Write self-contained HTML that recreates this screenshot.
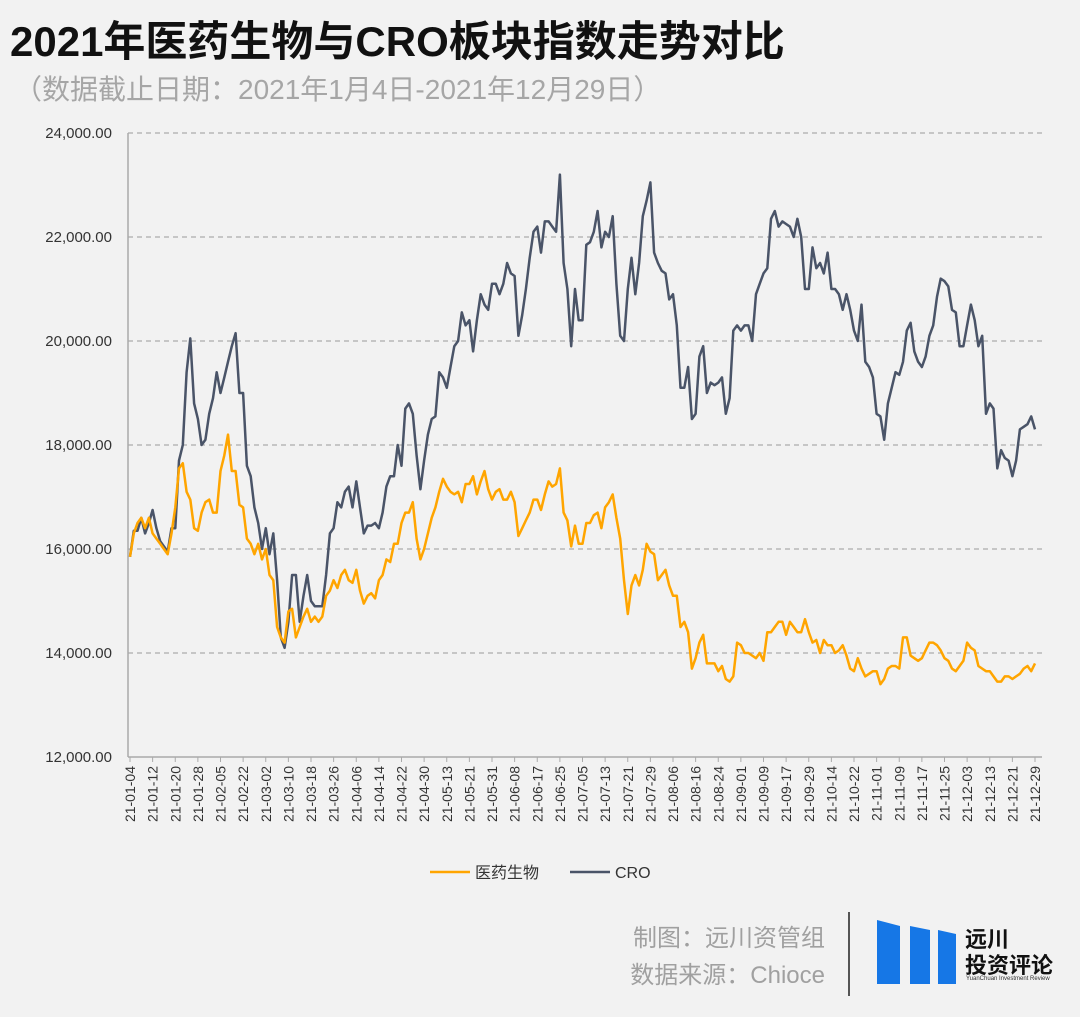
<!DOCTYPE html>
<html><head><meta charset="utf-8"><style>
body{margin:0;width:1080px;height:1017px;background:#f2f2f2;font-family:"Liberation Sans","Noto Sans CJK SC",sans-serif;overflow:hidden;position:relative}
.t{position:absolute;white-space:nowrap}
</style></head><body>
<div class="t" style="left:10px;top:8px;font-size:42px;font-weight:bold;color:#111">2021年医药生物与CRO板块指数走势对比</div>
<div class="t" style="left:14px;top:68px;font-size:28px;color:#a6a6a6">（数据截止日期：2021年1月4日-2021年12月29日）</div>
<svg id="chart" width="1080" height="1017" style="position:absolute;left:0;top:0"></svg>
<div class="t" style="right:255px;top:918px;font-size:24px;color:#a0a0a0">制图：远川资管组</div>
<div class="t" style="right:255px;top:955px;font-size:24px;color:#a0a0a0">数据来源：Chioce</div>
<div style="position:absolute;left:848px;top:912px;width:2px;height:84px;background:#555"></div>
<svg width="90" height="80" style="position:absolute;left:872px;top:912px">
<polygon points="5,8 28,14 28,72 5,72" fill="#1677e6"/>
<polygon points="38,14 58,18 58,72 38,72" fill="#1677e6"/>
<polygon points="66,18 84,22 84,72 66,72" fill="#1677e6"/>
</svg>
<div class="t" style="left:965px;top:922px;font-size:22px;font-weight:bold;color:#111">远川</div>
<div class="t" style="left:965px;top:948px;font-size:22px;font-weight:bold;color:#111">投资评论</div>
<div class="t" style="left:966px;top:976px;font-size:6px;color:#333">YuanChuan Investment Review</div>
<script>
const tickLabels=["21-01-04","21-01-12","21-01-20","21-01-28","21-02-05","21-02-22","21-03-02","21-03-10","21-03-18","21-03-26","21-04-06","21-04-14","21-04-22","21-04-30","21-05-13","21-05-21","21-05-31","21-06-08","21-06-17","21-06-25","21-07-05","21-07-13","21-07-21","21-07-29","21-08-06","21-08-16","21-08-24","21-09-01","21-09-09","21-09-17","21-09-29","21-10-14","21-10-22","21-11-01","21-11-09","21-11-17","21-11-25","21-12-03","21-12-13","21-12-21","21-12-29"];
const yTicks=[12000,14000,16000,18000,20000,22000,24000];
const seriesNames=["医药生物","CRO"];
const cro=[15.85,16.35,16.35,16.6,16.3,16.5,16.75,16.4,16.15,16.05,15.95,16.4,16.4,17.7,18.0,19.4,20.05,18.8,18.5,18.0,18.1,18.6,18.9,19.4,19.0,19.3,19.6,19.9,20.15,19.0,19.0,17.6,17.4,16.8,16.5,16.0,16.4,15.9,16.3,15.4,14.3,14.1,14.6,15.5,15.5,14.6,15.1,15.5,15.0,14.9,14.9,14.9,15.5,16.3,16.4,16.9,16.8,17.1,17.2,16.8,17.3,16.8,16.3,16.45,16.45,16.5,16.4,16.7,17.2,17.4,17.4,18.0,17.6,18.7,18.8,18.6,17.8,17.15,17.7,18.2,18.5,18.55,19.4,19.3,19.1,19.5,19.9,20.0,20.55,20.3,20.4,19.8,20.4,20.9,20.7,20.6,21.1,21.1,20.9,21.1,21.5,21.3,21.25,20.1,20.5,21.0,21.6,22.1,22.2,21.7,22.3,22.3,22.2,22.1,23.2,21.5,21.0,19.9,21.0,20.4,20.4,21.85,21.9,22.1,22.5,21.8,22.1,22.0,22.4,21.1,20.1,20.0,21.0,21.6,20.9,21.5,22.4,22.7,23.05,21.7,21.5,21.35,21.3,20.8,20.9,20.3,19.1,19.1,19.5,18.5,18.6,19.7,19.9,19.0,19.2,19.15,19.2,19.3,18.6,18.9,20.2,20.3,20.2,20.3,20.3,20.0,20.9,21.1,21.3,21.4,22.35,22.5,22.2,22.3,22.25,22.2,22.0,22.35,22.0,21.0,21.0,21.8,21.4,21.5,21.3,21.7,21.0,21.0,20.9,20.6,20.9,20.6,20.2,20.0,20.7,19.6,19.5,19.3,18.6,18.55,18.1,18.8,19.1,19.4,19.35,19.6,20.2,20.35,19.8,19.6,19.5,19.7,20.1,20.3,20.85,21.2,21.15,21.05,20.6,20.55,19.9,19.9,20.3,20.7,20.4,19.9,20.1,18.6,18.8,18.7,17.55,17.9,17.75,17.7,17.4,17.7,18.3,18.35,18.4,18.55,18.3];
const med=[15.85,16.3,16.5,16.6,16.4,16.6,16.3,16.2,16.1,16.0,15.9,16.3,16.8,17.55,17.65,17.1,16.95,16.4,16.35,16.7,16.9,16.95,16.7,16.7,17.5,17.8,18.2,17.5,17.5,16.85,16.8,16.2,16.1,15.9,16.1,15.8,16.0,15.5,15.4,14.5,14.3,14.2,14.8,14.85,14.3,14.5,14.7,14.85,14.6,14.7,14.6,14.7,15.1,15.2,15.4,15.25,15.5,15.6,15.4,15.35,15.6,15.2,14.95,15.1,15.15,15.05,15.4,15.5,15.8,15.75,16.1,16.1,16.5,16.7,16.7,16.9,16.2,15.8,16.0,16.3,16.6,16.8,17.1,17.35,17.2,17.1,17.05,17.1,16.9,17.25,17.25,17.4,17.05,17.3,17.5,17.15,16.95,17.1,17.15,16.95,16.95,17.1,16.9,16.25,16.4,16.55,16.7,16.95,16.95,16.75,17.05,17.3,17.2,17.25,17.55,16.7,16.55,16.05,16.45,16.1,16.1,16.5,16.5,16.65,16.7,16.4,16.8,16.9,17.05,16.6,16.2,15.4,14.75,15.3,15.5,15.3,15.6,16.1,15.95,15.9,15.4,15.5,15.6,15.3,15.1,15.1,14.5,14.6,14.4,13.7,13.9,14.2,14.35,13.8,13.8,13.8,13.65,13.75,13.5,13.45,13.55,14.2,14.15,14.0,14.0,13.95,13.9,14.0,13.85,14.4,14.4,14.5,14.6,14.6,14.35,14.6,14.5,14.4,14.4,14.65,14.4,14.2,14.25,14.0,14.25,14.15,14.15,14.0,14.05,14.15,13.95,13.7,13.65,13.9,13.7,13.55,13.6,13.65,13.65,13.4,13.5,13.7,13.75,13.75,13.7,14.3,14.3,13.95,13.9,13.85,13.9,14.05,14.2,14.2,14.15,14.05,13.9,13.85,13.7,13.65,13.75,13.85,14.2,14.1,14.05,13.75,13.7,13.65,13.65,13.55,13.45,13.45,13.55,13.55,13.5,13.55,13.6,13.7,13.75,13.65,13.8];
const NS="http://www.w3.org/2000/svg",svg=document.getElementById("chart");
const X0=130,X1=1035,Y0=757,Y1=133,N=241,STEP=6;
const xs=i=>X0+(X1-X0)*i/((tickLabels.length-1)*STEP);
const ys=v=>Y0-(v-12000)/(24000-12000)*(Y0-Y1);
function mk(t,a){const e=document.createElementNS(NS,t);for(const k in a)e.setAttribute(k,a[k]);svg.appendChild(e);return e;}
yTicks.forEach(v=>{
 if(v>12000){const g=mk("line",{x1:128,x2:1042,y1:ys(v),y2:ys(v),stroke:"#999","stroke-dasharray":"5,4","stroke-width":1});
 
 }
 const t=mk("text",{x:112,y:ys(v)+5,"text-anchor":"end","font-size":"15","fill":"#333","font-family":"Liberation Sans, sans-serif"});
 t.textContent=v.toLocaleString("en-US",{minimumFractionDigits:2});
 
 
});
const ax=mk("line",{x1:128,x2:128,y1:133,y2:757,stroke:"#aaa","stroke-width":1.5});


const bx=mk("line",{x1:128,x2:1042,y1:757,y2:757,stroke:"#aaa","stroke-width":1.5});


tickLabels.forEach((l,k)=>{
 const x=xs(k*STEP);
 const tk=mk("line",{x1:x,x2:x,y1:757,y2:762,stroke:"#aaa"});
 
 
 const t=mk("text",{x:0,y:0,"text-anchor":"end","font-size":"14","fill":"#333","font-family":"Liberation Sans, sans-serif",transform:`translate(${x+5},766) rotate(-90)`});
 t.textContent=l;
 
 
});
function line(arr,col,name){
 const d=arr.map((v,i)=>(i?"L":"M")+xs(i).toFixed(1)+","+ys(v*1000).toFixed(1)).join("");
 const p=mk("path",{d:d,fill:"none",stroke:col,"stroke-width":2.5,"stroke-linejoin":"round"});
 
 
}
line(cro,"#4a5468","cro-line");
line(med,"#ffa500","medicine-line");
[[430,"#ffa500",seriesNames[0]],[570,"#4a5468",seriesNames[1]]].forEach(([x,c,n])=>{
 const l=mk("line",{x1:x,x2:x+40,y1:872,y2:872,stroke:c,"stroke-width":2.5});
 
 
 const t=mk("text",{x:x+45,y:878,"font-size":"16","fill":"#333","font-family":"Liberation Sans, Noto Sans CJK SC, sans-serif"});
 t.textContent=n;
 
 
});
</script>
</body></html>
